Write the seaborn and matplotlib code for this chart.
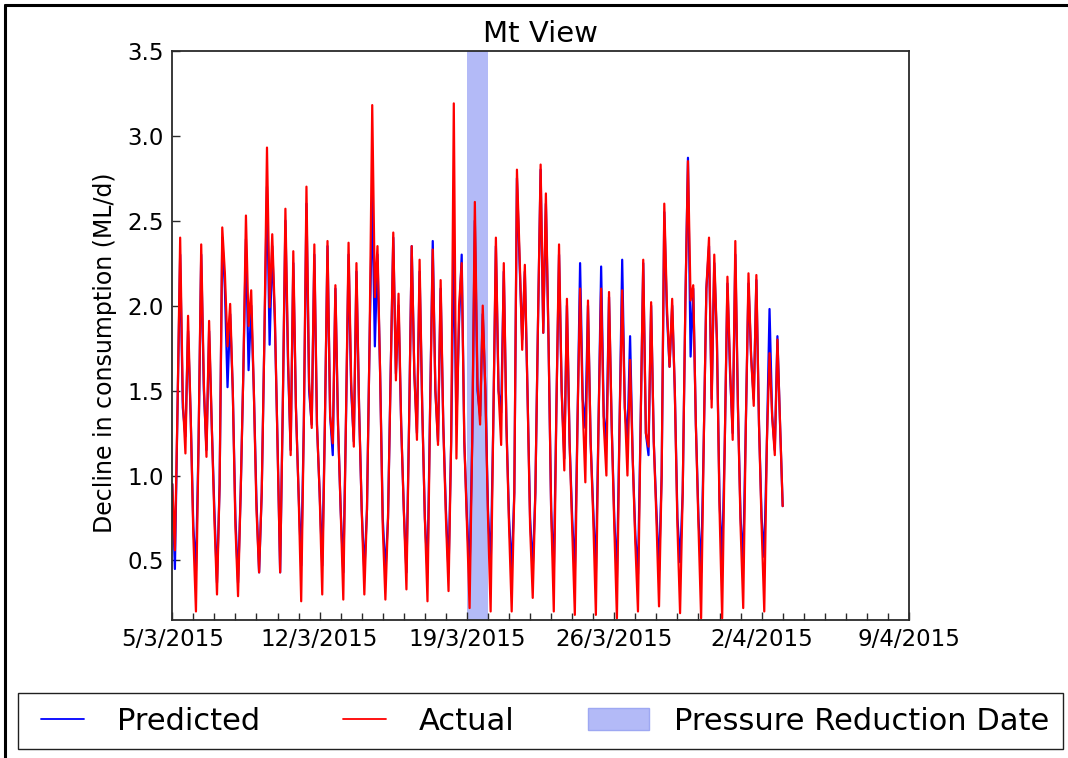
import numpy as np
import pandas as pd
import matplotlib
matplotlib.use("Agg")
import matplotlib.pyplot as plt
import matplotlib.dates as mdates
from matplotlib.lines import Line2D
from matplotlib.patches import Patch
import seaborn as sns

# Three-hourly readings (00, 03, 06, 09, 12, 15, 18, 21 h) from 5/3/2015
start = "2015-03-05"
step = "3h"

actual = [
    0.95, 0.56, 1.40, 2.40, 1.45, 1.13, 1.94, 1.35,   # 5/3
    0.65, 0.20, 1.20, 2.36, 1.54, 1.11, 1.91, 1.30,   # 6/3
    0.75, 0.30, 0.95, 2.46, 2.19, 1.76, 2.01, 1.50,   # 7/3
    0.70, 0.29, 0.90, 1.60, 2.53, 1.88, 2.09, 1.50,   # 8/3
    0.80, 0.43, 0.90, 1.80, 2.93, 1.99, 2.42, 1.94,   # 9/3
    1.20, 0.43, 1.40, 2.57, 1.70, 1.12, 2.32, 1.40,   # 10/3
    0.90, 0.26, 1.30, 2.70, 1.55, 1.28, 2.36, 1.30,   # 11/3
    0.90, 0.30, 1.30, 2.38, 1.35, 1.19, 2.12, 1.30,   # 12/3
    0.80, 0.27, 1.30, 2.37, 1.55, 1.17, 2.25, 1.40,   # 13/3
    0.80, 0.30, 0.80, 1.80, 3.18, 2.05, 2.35, 1.60,   # 14/3
    0.70, 0.27, 0.75, 1.60, 2.43, 1.56, 2.07, 1.30,   # 15/3
    0.80, 0.33, 1.30, 2.35, 1.60, 1.21, 2.27, 1.40,   # 16/3
    0.75, 0.26, 1.40, 2.33, 1.50, 1.18, 2.15, 1.30,   # 17/3
    0.75, 0.32, 1.20, 3.19, 1.10, 2.00, 2.25, 1.20,   # 18/3
    0.70, 0.22, 1.20, 2.61, 1.54, 1.30, 2.00, 1.50,   # 19/3
    0.75, 0.20, 1.30, 2.40, 1.50, 1.18, 2.25, 1.30,   # 20/3
    0.70, 0.20, 0.90, 2.80, 2.30, 1.74, 2.24, 1.50,   # 21/3
    0.70, 0.28, 0.90, 1.90, 2.83, 1.84, 2.66, 1.80,   # 22/3
    0.80, 0.20, 1.40, 2.36, 1.50, 1.03, 2.04, 1.20,   # 23/3
    0.70, 0.18, 1.30, 2.10, 1.40, 0.96, 2.03, 1.20,   # 24/3
    0.75, 0.18, 1.30, 2.10, 1.30, 1.00, 2.08, 1.30,   # 25/3
    0.70, 0.16, 1.30, 2.09, 1.40, 1.00, 1.68, 1.10,   # 26/3
    0.60, 0.20, 1.30, 2.27, 1.25, 1.17, 2.02, 1.20,   # 27/3
    0.75, 0.23, 1.00, 2.60, 2.00, 1.64, 2.04, 1.50,   # 28/3
    0.70, 0.19, 0.90, 2.00, 2.85, 2.03, 2.12, 1.30,   # 29/3
    0.70, 0.16, 1.20, 2.10, 2.40, 1.40, 2.30, 1.80,   # 30/3
    0.80, 0.16, 1.20, 2.17, 1.64, 1.21, 2.38, 1.40,   # 31/3
    0.70, 0.22, 1.30, 2.19, 1.70, 1.41, 2.18, 1.30,   # 1/4
    0.70, 0.20, 1.20, 1.72, 1.35, 1.12, 1.80, 1.30,   # 2/4
    0.82,                                             # 3/4 00h
]

predicted = [
    0.95, 0.45, 1.40, 2.30, 1.40, 1.23, 1.85, 1.35,
    0.70, 0.44, 1.20, 2.30, 1.50, 1.15, 1.85, 1.30,
    0.80, 0.37, 0.95, 2.40, 2.10, 1.52, 1.95, 1.50,
    0.75, 0.37, 0.90, 1.60, 2.39, 1.62, 2.00, 1.50,
    0.85, 0.43, 0.90, 1.80, 2.70, 1.77, 2.35, 1.90,
    1.20, 0.43, 1.40, 2.50, 1.65, 1.15, 2.25, 1.40,
    0.90, 0.47, 1.30, 2.60, 1.50, 1.30, 2.30, 1.30,
    0.90, 0.47, 1.30, 2.35, 1.35, 1.12, 2.10, 1.30,
    0.80, 0.43, 1.30, 2.30, 1.50, 1.20, 2.20, 1.40,
    0.80, 0.43, 0.80, 1.80, 2.65, 1.76, 2.30, 1.60,
    0.75, 0.43, 0.75, 1.60, 2.40, 1.60, 2.00, 1.30,
    0.80, 0.43, 1.30, 2.35, 1.60, 1.25, 2.20, 1.40,
    0.75, 0.43, 1.40, 2.38, 1.50, 1.20, 2.10, 1.30,
    0.80, 0.43, 1.20, 2.35, 1.30, 1.90, 2.30, 1.20,
    0.75, 0.43, 1.20, 2.50, 1.50, 1.35, 1.95, 1.50,
    0.80, 0.45, 1.30, 2.35, 1.50, 1.37, 2.20, 1.30,
    0.75, 0.44, 0.90, 2.75, 2.25, 1.80, 2.20, 1.50,
    0.75, 0.45, 0.90, 1.90, 2.80, 1.84, 2.60, 1.80,
    0.80, 0.42, 1.40, 2.30, 1.50, 1.10, 2.00, 1.20,
    0.75, 0.42, 1.30, 2.25, 1.45, 1.28, 2.00, 1.20,
    0.80, 0.42, 1.30, 2.23, 1.35, 1.20, 2.05, 1.30,
    0.75, 0.40, 1.30, 2.27, 1.40, 1.20, 1.82, 1.10,
    0.65, 0.42, 1.30, 2.25, 1.25, 1.12, 2.00, 1.20,
    0.80, 0.44, 1.00, 2.55, 1.95, 1.64, 2.00, 1.50,
    0.75, 0.49, 0.90, 2.00, 2.87, 1.70, 2.10, 1.30,
    0.75, 0.43, 1.20, 2.10, 2.35, 1.45, 2.25, 1.80,
    0.85, 0.49, 1.20, 2.13, 1.60, 1.25, 2.30, 1.40,
    0.75, 0.49, 1.30, 2.13, 1.70, 1.45, 2.15, 1.30,
    0.75, 0.52, 1.20, 1.98, 1.35, 1.15, 1.82, 1.30,
    0.82,
]

reduction_start = "2015-03-19"
reduction_end = "2015-03-20"

tick_dates = ["2015-03-05", "2015-03-12", "2015-03-19",
              "2015-03-26", "2015-04-02", "2015-04-09"]
tick_labels = ["5/3/2015", "12/3/2015", "19/3/2015",
               "26/3/2015", "2/4/2015", "9/4/2015"]
y_ticks = [0.5, 1.0, 1.5, 2.0, 2.5, 3.0, 3.5]

# Long-form table for seaborn
times = pd.date_range(start, periods=len(actual), freq=step)
df = pd.DataFrame({
    "time": list(times) + list(times),
    "value": predicted + actual,
    "series": ["Predicted"] * len(predicted) + ["Actual"] * len(actual),
})

sns.set_style("ticks")
plt.rcParams["font.family"] = ["DejaVu Sans"]
plt.rcParams["text.color"] = "black"
plt.rcParams["axes.labelcolor"] = "black"
plt.rcParams["xtick.color"] = "black"
plt.rcParams["ytick.color"] = "black"

blue = "#0000ff"
red = "#ff0000"
span_color = (0.70, 0.73, 0.97)
spine_color = "#2a2a2a"

fig = plt.figure(figsize=(10.68, 7.58), dpi=100)
ax = fig.add_axes([0.1613, 0.1821, 0.6898, 0.7510])

ax.axvspan(pd.Timestamp(reduction_start), pd.Timestamp(reduction_end),
           color=span_color, lw=0, zorder=0)

sns.lineplot(data=df, x="time", y="value", hue="series",
             hue_order=["Predicted", "Actual"],
             palette={"Predicted": blue, "Actual": red},
             estimator=None, linewidth=1.6, legend=False, ax=ax)

ax.set_xlim(pd.Timestamp("2015-03-05"), pd.Timestamp("2015-04-09"))
ax.set_ylim(0.15, 3.5)

ax.set_xticks(pd.to_datetime(tick_dates))
ax.set_xticklabels(tick_labels)
ax.xaxis.set_minor_locator(mdates.DayLocator())
ax.set_yticks(y_ticks)
ax.set_yticklabels([f"{v:.1f}" for v in y_ticks])

ax.tick_params(axis="both", which="major", direction="in", length=6,
               width=1, color=spine_color, labelcolor="black",
               labelsize=16.5, pad=6)
ax.tick_params(axis="x", which="minor", direction="in", length=5,
               width=1, color=spine_color)
for side in ["left", "right", "top", "bottom"]:
    ax.spines[side].set_visible(True)
    ax.spines[side].set_color(spine_color)
    ax.spines[side].set_linewidth(1.3)

ax.set_xlabel("")
ax.set_ylabel("Decline in consumption (ML/d)", fontsize=17, color="black")
ax.yaxis.set_label_coords(-0.075, 0.47)
ax.set_title("Mt View", fontsize=21, pad=6, color="black")

handles = [
    Line2D([], [], color=blue, lw=1.3),
    Line2D([], [], color=red, lw=1.3),
    Patch(facecolor=span_color, edgecolor=(0.62, 0.66, 0.95), lw=1),
]
fig.legend(handles, ["Predicted", "Actual", "Pressure Reduction Date"],
           loc="center", ncol=3, mode="expand", numpoints=2,
           bbox_to_anchor=(0.0169, 0.0115, 0.978, 0.074), borderaxespad=0,
           fontsize=22, frameon=True, fancybox=False, edgecolor="#202020",
           borderpad=0.45, handlelength=2.0, handletextpad=0.8,
           columnspacing=1.0, framealpha=1)

# Frame lines along the left and top of the figure
fig.add_artist(Line2D([5.5 / 1068, 5.5 / 1068], [0, 1 - 5 / 758],
                      transform=fig.transFigure, color="black", lw=2.2))
fig.add_artist(Line2D([5.5 / 1068, 1], [1 - 5 / 758, 1 - 5 / 758],
                      transform=fig.transFigure, color="black", lw=2.2))

fig.savefig("out.png", dpi=100)
